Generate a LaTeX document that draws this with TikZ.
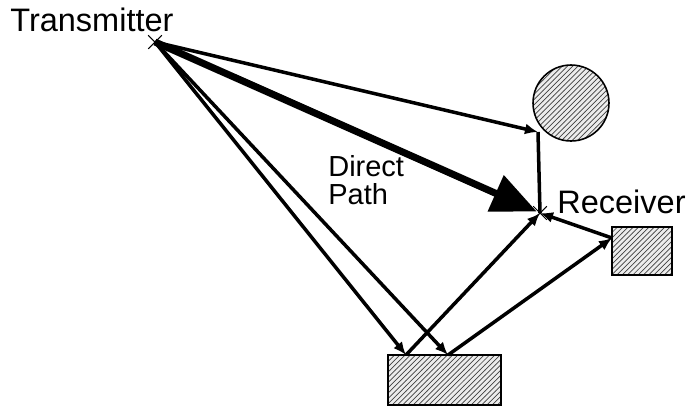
\documentclass[tikz,border=0pt]{standalone}
\usepackage{fontspec}
\setsansfont{Liberation Sans}
\usetikzlibrary{arrows.meta,patterns,shapes.misc}
\tikzset{
  ray/.style={line width=2pt, -{Latex[length=2.6mm,width=2.2mm]}},
  direct/.style={line width=4pt, -{Triangle[length=9mm,width=7.6mm]}},
  scatterer/.style={draw, line width=0.9pt, pattern=north east lines, pattern color=black!75, inner sep=0},
  markpt/.style={cross out, draw, line width=0.6pt, minimum size=2.5mm, inner sep=0},
  lbl/.style={font=\sffamily\fontsize{18.5}{26}\selectfont, inner sep=0},
  pathlbl/.style={font=\sffamily\fontsize{16.5}{16}\selectfont, inner sep=0}
}
\begin{document}
\begin{tikzpicture}[x=0.02cm, y=-0.02cm]
  \useasboundingbox (0,0) rectangle (689,407);
  % scatterers
  \fill[gray!15] (571,103) circle (38);
  \node[scatterer, circle, minimum size=1.52cm] (ball) at (571,103) {};
  \fill[gray!15] (612,227) rectangle (672,275);
  \node[scatterer, rectangle, minimum width=1.2cm, minimum height=0.96cm] (wall) at (642,251) {};
  \fill[gray!15] (388,355) rectangle (501,405);
  \node[scatterer, rectangle, minimum width=2.26cm, minimum height=1.0cm] (ground) at (444.5,380) {};
  % end points
  \coordinate (tx) at (155,42);
  \coordinate (rx) at (540,213);
  \coordinate (cb) at (538,132);
  \coordinate (g1) at (406,355);
  \coordinate (g2) at (448,355);
  \coordinate (w1) at (612,238);
  % labels
  \node[lbl, anchor=base west] (txl) at (10,31) {Transmitter};
  \node[lbl, anchor=base west] (rxl) at (557,213) {Receiver};
  \node[pathlbl, anchor=north west, align=left] (dpl) at (328,155) {Direct\\Path};
  % rays
  \draw[ray] (tx) -- (cb);
  \draw[line width=2pt] (cb) -- (rx);
  \draw[ray] (tx) -- (g1);
  \draw[ray] (g1) -- (rx);
  \draw[ray] (tx) -- (g2);
  \draw[ray] (g2) -- (w1);
  \draw[ray] (w1) -- (rx);
  \draw[direct, shorten >=2pt] (tx) -- (rx);
  % antennas
  \node[markpt] (txm) at (tx) {};
  \node[markpt] (rxm) at (rx) {};
\end{tikzpicture}
\end{document}
